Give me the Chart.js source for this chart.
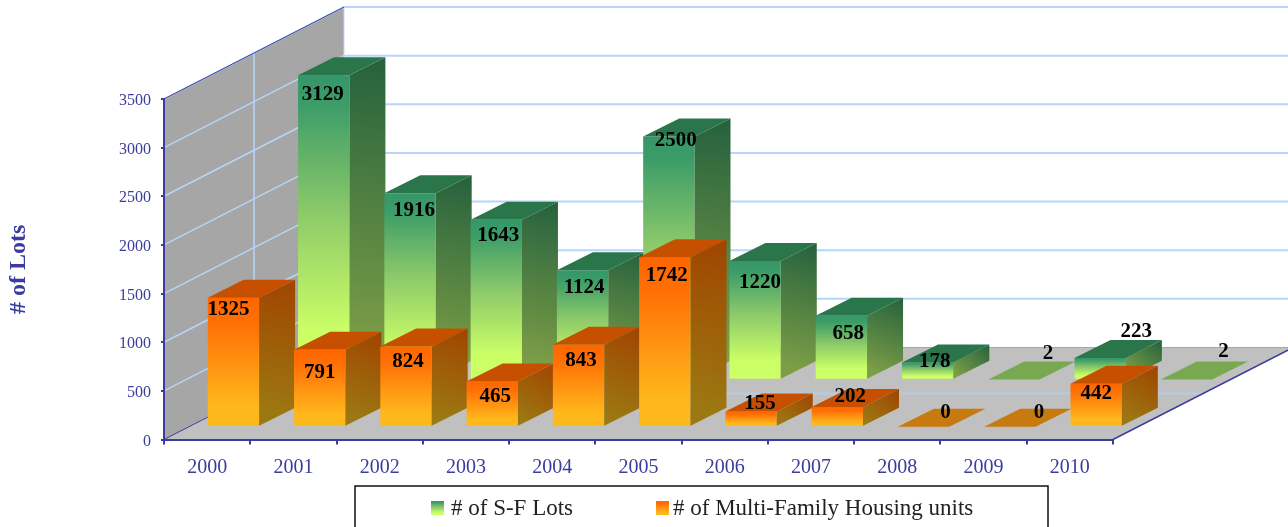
<!DOCTYPE html>
<html>
<head>
<meta charset="utf-8">
<style>
  html, body { margin: 0; padding: 0; background: #fff; overflow: hidden; }
  canvas { display: block; }
</style>
<script src="https://cdn.jsdelivr.net/npm/chart.js@4/dist/chart.umd.js"></script>
</head>
<body>
<canvas id="chart" width="1288" height="527"></canvas>
<script>
const years = ['2000', '2001', '2002', '2003', '2004', '2005', '2006', '2007', '2008', '2009', '2010']
const sfLots = [3129, 1916, 1643, 1124, 2500, 1220, 658, 178, 2, 223, 2]
const multiFamily = [1325, 791, 824, 465, 843, 1742, 155, 202, 0, 0, 442]
const yTicks = [0, 500, 1000, 1500, 2000, 2500, 3000, 3500]

// hand placed label nudges from the centre of each bar's top edge
const sfNudge = [[-1, 18], [4, 16], [2, 14], [1.5, 16], [7, 3], [5, 20], [7, 16], [7, -2], [34, -27], [36, -28], [37, -29]]
const multiNudge = [[-5, 10], [0, 21], [2, 14], [3, 14], [2.5, 14], [2, 17], [9, -10], [13, -12], [22, -16], [29, -16], [0, 8]]

const AXIS = '#3b3ba0'
const GRID = '#b4d6fa'
const SERIF = '"Liberation Serif", serif'
const wallDepth = { x: 180, y: -92 }
const barDepth = { x: 36, y: -18 }

const styleSF = {
    shift: { x: 116.6, y: -59.8 },
    front: [[0, '#35966a'], [0.1, '#3d9d68'], [0.45, '#8cc96a'], [0.85, '#ccff66']],
    side: [[0, '#25613e'], [0.9, '#7c9e46']],
    top: '#2a7549',
    flat: '#78a84f',
    nudge: sfNudge,
}
const styleMulti = {
    shift: { x: 26.3, y: -12.8 },
    front: [[0, '#ff6600'], [0.2, '#ff7006'], [0.85, '#ffb81c']],
    side: [[0, '#a04400'], [0.9, '#9c7812']],
    top: '#c65000',
    flat: '#c67a10',
    nudge: multiNudge,
}

function gradient(ctx, x0, y0, x1, y1, stops) {
    const g = ctx.createLinearGradient(x0, y0, x1, y1)
    stops.forEach(s => g.addColorStop(s[0], s[1]))
    return g
}

function poly(ctx, pts, fill) {
    ctx.beginPath()
    pts.forEach((p, i) => i ? ctx.lineTo(p[0], p[1]) : ctx.moveTo(p[0], p[1]))
    ctx.closePath()
    ctx.fillStyle = fill
    ctx.fill()
}

function line(ctx, x0, y0, x1, y1, color, width) {
    ctx.beginPath()
    ctx.moveTo(x0, y0)
    ctx.lineTo(x1, y1)
    ctx.strokeStyle = color
    ctx.lineWidth = width
    ctx.stroke()
}

// the walls and the floor of the 3d box, behind everything
const box3d = {
    id: 'box3d',
    beforeDraw(chart) {
        const ctx = chart.ctx
        const { x, y } = chart.scales
        const left = x.left, right = x.right
        const y0 = y.getPixelForValue(0), yTop = y.getPixelForValue(3500)
        const dx = wallDepth.x, dy = wallDepth.y
        ctx.save()
        poly(ctx, [[left, yTop], [left + dx, yTop + dy], [left + dx, y0 + dy], [left, y0]], '#a6a6a6')
        poly(ctx, [[left, y0], [left + dx, y0 + dy], [right + dx, y0 + dy], [right, y0]], '#c0c0c0')
        yTicks.forEach(t => {
            const py = y.getPixelForValue(t)
            if (t > 0) {
                line(ctx, left, py, left + dx, py + dy, GRID, 1.5)
                line(ctx, left + dx, py + dy, 1288, py + dy, GRID, 2)
            }
        })
        // middle lines between the two rows of bars
        line(ctx, left + dx / 2, yTop + dy / 2, left + dx / 2, y0 + dy / 2, GRID, 1.5)
        line(ctx, left + dx / 2, y0 + dy / 2, right + dx / 2, y0 + dy / 2, '#b4cce4', 2)
        line(ctx, left + dx, yTop + dy, left + dx, y0 + dy, '#c8dcf0', 1)
        line(ctx, left, yTop, left + dx, yTop + dy, AXIS, 1)
        line(ctx, left, y0, left + dx, y0 + dy, AXIS, 1)
        line(ctx, left + dx, y0 + dy, right + dx, y0 + dy, '#9fa3c8', 1)
        line(ctx, right, y0, right + dx, y0 + dy, AXIS, 1.5)
        ctx.restore()
    },
    beforeDatasetDraw(chart, args) {
        const ctx = chart.ctx
        const st = chart.data.datasets[args.index].look
        ctx.save()
        args.meta.data.forEach(bar => {
            const x0 = bar.x - bar.width / 2 + st.shift.x
            const x1 = x0 + bar.width
            const top = bar.y + st.shift.y
            const base = bar.base + st.shift.y
            const dx = barDepth.x, dy = barDepth.y
            const topFace = [[x0, top], [x0 + dx, top + dy], [x1 + dx, top + dy], [x1, top]]
            if (base - top < 1) {
                poly(ctx, topFace, st.flat)
                return
            }
            poly(ctx, [[x0, top], [x1, top], [x1, base], [x0, base]], gradient(ctx, 0, top, 0, base, st.front))
            poly(ctx, [[x1, top], [x1 + dx, top + dy], [x1 + dx, base + dy], [x1, base]],
                gradient(ctx, x1 + dx, top + dy, x1, base, st.side))
            poly(ctx, topFace, st.top)
        })
        ctx.restore()
        return false
    },
    afterDatasetsDraw(chart) {
        const ctx = chart.ctx
        ctx.save()
        ctx.font = 'bold 21px ' + SERIF
        ctx.fillStyle = '#000'
        ctx.textAlign = 'center'
        ctx.textBaseline = 'middle'
        chart.data.datasets.forEach((ds, i) => {
            const st = ds.look
            chart.getDatasetMeta(i).data.forEach((bar, j) => {
                ctx.fillText(ds.data[j], bar.x + st.shift.x + st.nudge[j][0], bar.y + st.shift.y + st.nudge[j][1] + 1.5)
            })
        })
        ctx.restore()
    },
    afterDraw(chart) {
        const ctx = chart.ctx
        ctx.save()
        ctx.strokeStyle = '#111'
        ctx.lineWidth = 1.5
        ctx.strokeRect(355, 486, 693, 60)
        ctx.textBaseline = 'middle'
        const items = [[431, 451], [656, 673]]
        chart.data.datasets.forEach((ds, i) => {
            const sx = items[i][0]
            poly(ctx, [[sx, 501], [sx + 13, 501], [sx + 13, 515], [sx, 515]],
                gradient(ctx, 0, 501, 0, 515, ds.look.front))
            ctx.font = '23px ' + SERIF
            ctx.fillStyle = '#222'
            ctx.fillText(ds.label, items[i][1], 509)
        })
        ctx.restore()
    },
}

new Chart(document.getElementById('chart'), {
    type: 'bar',
    data: {
        labels: years,
        datasets: [
            { label: '# of S-F Lots', data: sfLots, order: 2, look: styleSF },
            { label: '# of Multi-Family Housing units', data: multiFamily, order: 1, look: styleMulti },
        ],
    },
    options: {
        responsive: false,
        animation: false,
        layout: { padding: { top: 99, right: 175, bottom: 0, left: 0 } },
        datasets: { bar: { grouped: false, categoryPercentage: 1, barPercentage: 0.595 } },
        plugins: { legend: { display: false }, tooltip: { enabled: false } },
        scales: {
            x: {
                grid: { drawOnChartArea: false, color: AXIS, tickLength: 5, lineWidth: 2 },
                border: { color: AXIS, width: 2 },
                ticks: { color: AXIS, font: { family: SERIF, size: 20 }, padding: 11, maxRotation: 0 },
                afterFit(scale) { scale.height = 87.5 },
            },
            y: {
                min: 0,
                max: 3500,
                grid: { drawOnChartArea: false, color: AXIS, tickLength: 3, lineWidth: 2 },
                border: { color: AXIS, width: 2 },
                ticks: {
                    color: AXIS,
                    stepSize: 500,
                    font: { family: SERIF, size: 16 },
                    padding: 10,
                    labelOffset: 2,
                    callback: v => String(v),
                },
                title: {
                    display: true,
                    text: '# of Lots',
                    color: AXIS,
                    font: { family: SERIF, size: 24, weight: 'bold' },
                    padding: { top: 4, bottom: 0 },
                },
                afterFit(scale) { scale.width = 164 },
            },
        },
    },
    plugins: [box3d],
})
</script>
</body>
</html>
